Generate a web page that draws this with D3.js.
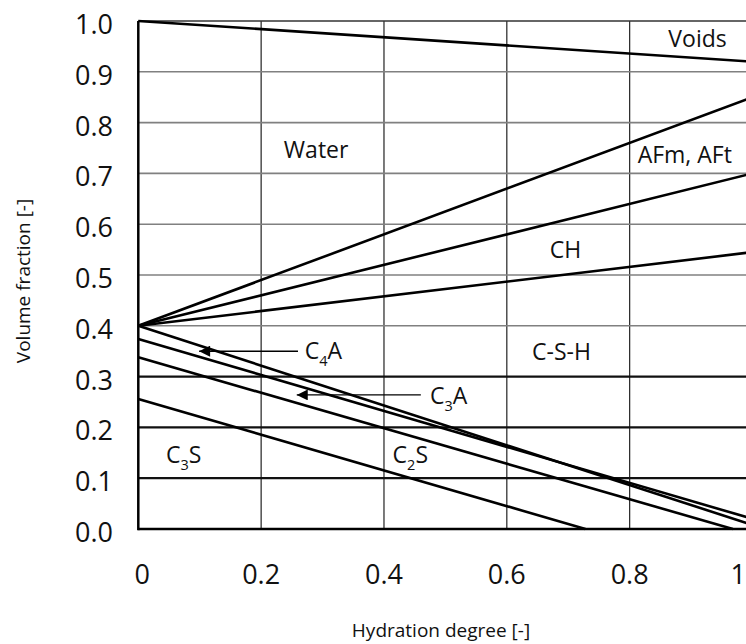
<!DOCTYPE html>
<html><head><meta charset="utf-8">
<script src="https://cdn.jsdelivr.net/npm/d3@7"></script>
<style>
body{margin:0;background:#fff;overflow:hidden}
text{font-family:'Open Sans',sans-serif;fill:#111}
</style>
</head><body><svg id="c" width="746" height="644"></svg>
<script>
// ---- data ----
const xTicks = [0, 0.2, 0.4, 0.6, 0.8, 1];
const xTickLabels = ["0", "0.2", "0.4", "0.6", "0.8", "1"];
const yTicks = [0, 0.1, 0.2, 0.3, 0.4, 0.5, 0.6, 0.7, 0.8, 0.9, 1.0];
const yTickLabels = ["0.0", "0.1", "0.2", "0.3", "0.4", "0.5", "0.6", "0.7", "0.8", "0.9", "1.0"];

// phase boundary lines (start / end points)
const lineX0 = [0, 0, 0, 0, 0, 0, 0, 0];
const lineY0 = [1.0, 0.4, 0.4, 0.4, 0.4, 0.374, 0.338, 0.256];
const lineX1 = [1, 1, 1, 1, 1, 1, 0.968, 0.728];
const lineY1 = [0.92, 0.85, 0.70, 0.545, 0.008, 0.02, 0, 0];

// region labels: text parts, subscript flags
const labelParts = [["Water"], ["Voids"], ["AFm, AFt"], ["CH"], ["C-S-H"], ["C", "3", "S"], ["C", "2", "S"], ["C", "4", "A"], ["C", "3", "A"]];
const labelSub = [[0], [0], [0], [0], [0], [0, 1, 0], [0, 1, 0], [0, 1, 0], [0, 1, 0]];
const labelX = [0.237, 0.863, 0.813, 0.67, 0.641, 0.045, 0.414, 0.271, 0.475];
const labelY = [0.731, 0.949, 0.72, 0.533, 0.333, 0.13, 0.13, 0.335, 0.247];

// arrows (from label to line)
const arrowX0 = [0.26, 0.46];
const arrowX1 = [0.099, 0.258];
const arrowY = [0.350, 0.264];

// ---- chart ----
const W = 746;
const svg = d3.select("#c");
svg.append("rect").attr("width", W).attr("height", 644).attr("fill", "#fff");
const x = d3.scaleLinear().domain([0, 1]).range([138.3, 752.5]);
const y = d3.scaleLinear().domain([0, 1]).range([529, 21]);

svg.append("defs").append("marker")
  .attr("id", "ah").attr("viewBox", "0 0 10 10").attr("refX", 10).attr("refY", 5)
  .attr("markerWidth", 14).attr("markerHeight", 11).attr("markerUnits", "userSpaceOnUse")
  .attr("orient", "auto")
  .append("path").attr("d", "M10,5L0,0L0,10Z").attr("fill", "#000");

const g = svg.append("g");
// vertical grid
g.selectAll(".vg").data(xTicks.slice(1, -1)).join("line")
  .attr("x1", d => x(d)).attr("x2", d => x(d)).attr("y1", y(0)).attr("y2", y(1))
  .attr("stroke", "#222").attr("stroke-width", 1.2);
// horizontal grid
g.selectAll(".hg").data(yTicks.slice(1)).join("line")
  .attr("x1", x(0)).attr("x2", x(1)).attr("y1", d => y(d)).attr("y2", d => y(d))
  .attr("stroke", d => d < 0.35 ? "#111" : (d > 0.95 ? "#333" : "#808080"))
  .attr("stroke-width", d => d < 0.35 ? 2.2 : 1.6);
// frame
g.append("line").attr("x1", x(0)).attr("x2", x(0)).attr("y1", y(0) + 1.2).attr("y2", y(1))
  .attr("stroke", "#000").attr("stroke-width", 2.5);
g.append("line").attr("x1", x(0)).attr("x2", x(1)).attr("y1", y(0)).attr("y2", y(0))
  .attr("stroke", "#000").attr("stroke-width", 2.5);

// boundary lines
g.selectAll(".bl").data(lineY0.map((d, i) => i)).join("line")
  .attr("x1", i => x(lineX0[i])).attr("y1", i => y(lineY0[i]))
  .attr("x2", i => x(lineX1[i])).attr("y2", i => y(lineY1[i]))
  .attr("stroke", "#000").attr("stroke-width", 2.6).attr("stroke-linecap", "butt");

// arrows
g.selectAll(".ar").data(arrowY.map((d, i) => i)).join("line")
  .attr("x1", i => x(arrowX0[i])).attr("x2", i => x(arrowX1[i]))
  .attr("y1", i => y(arrowY[i])).attr("y2", i => y(arrowY[i]))
  .attr("stroke", "#000").attr("stroke-width", 1.4).attr("marker-end", "url(#ah)");

// labels
labelParts.forEach((parts, i) => {
  const t = g.append("text").attr("x", x(labelX[i])).attr("y", y(labelY[i]))
    .attr("font-size", 23);
  parts.forEach((p, j) => {
    const sub = labelSub[i][j];
    const prevSub = j > 0 && labelSub[i][j - 1];
    const ts = t.append("tspan").text(p);
    if (sub) ts.attr("font-size", 14.5).attr("dy", 7);
    else if (prevSub) ts.attr("dy", -7);
  });
});

// tick labels
svg.selectAll(".yt").data(yTicks).join("text")
  .attr("x", 113).attr("y", d => y(d) + 13).attr("text-anchor", "end")
  .attr("font-size", 27).text((d, i) => yTickLabels[i]);
const lastX = xTicks.length - 1;
svg.selectAll(".xt").data(xTicks).join("text")
  .attr("x", (d, i) => i === 0 ? x(d) + 4 : (i === lastX ? Math.min(x(d), W) : x(d)))
  .attr("y", 584).attr("text-anchor", (d, i) => i === lastX ? "end" : "middle")
  .attr("font-size", 27).text((d, i) => xTickLabels[i]);

// axis titles
svg.append("text").attr("x", 441).attr("y", 637).attr("text-anchor", "middle")
  .attr("font-size", 19).text("Hydration degree [-]");
svg.append("text").attr("transform", "translate(30,281) rotate(-90)").attr("text-anchor", "middle")
  .attr("font-size", 19).text("Volume fraction [-]");
</script>
</body></html>
